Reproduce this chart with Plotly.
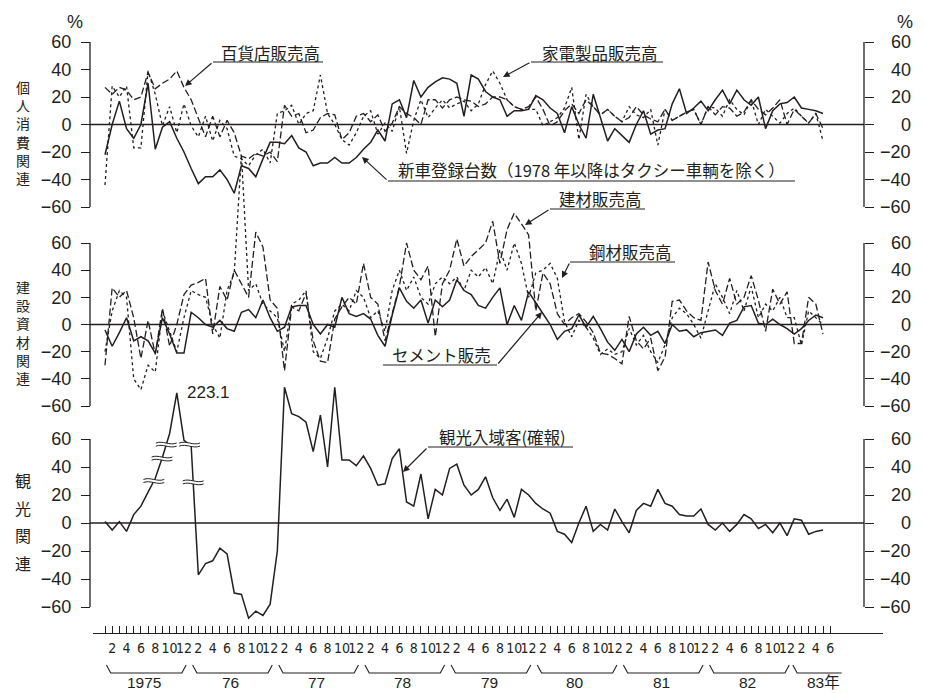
import numpy as np
import plotly.graph_objects as go

# ---------------------------------------------------------------
# Monthly year-on-year change (%), January 1975 - May 1983
# ---------------------------------------------------------------
# 個人消費関連
new_car = [
    -22, 0, 17, -3, -10, 0, 30, -18, -2, 2, -10, -20,
    -32, -43, -38, -38, -33, -40, -50, -30, -32, -38, -25, -13,
    -13, -14, -8, -17, -20, -30, -28, -28, -24, -28, -28, -24,
    -18, -13, -4, -12, 15, 18, 5, 32, 20, 27, 31, 34,
    33, 30, 6, 36, 33, 24, 20, 18, 6, 10, 10, 11,
    21, 18, 12, 8, -6, 13, 0, -10, 22, 5, -12, -3,
    -8, -13, 0, 10, -7, -4, -3, 15, 26, 8, 12, 17,
    10, 18, 25, 15, 25, 18, 14, 20, -3, 10, 15, 16,
    20, 12, 11, 10, 8,
]
dept_store = [
    27, 22, 27, 25, 18, 20, 38, 26, 30, 33, 39, 27,
    18, 5, -9, 6, -9, 3, -6, -23, -25, -21, -23, -20,
    -27, 14, 6, 8, -6, -4, 5, 8, 7, -11, -6, 6,
    8, 2, 7, -5, 1, 13, 8, 5, 0, 18, 18, 12,
    18, 20, 18, 17, 13, 15, 20, 20, 18, 13, 11, 13,
    20, 11, -1, 2, 10, 15, 8, 18, 13, 7, 11, 6,
    2, 5, 13, 7, 4, 2, 11, 3, 6, 9, 11, 0,
    13, 7, 13, 12, 6, 9, 18, 11, 7, 12, 18, 0,
    11, 6, 1, 8, -3,
]
appliances = [
    -44, 28, 20, 28, -17, -17, 39, 22, -1, 13, -6, 15,
    -1, -9, 6, -12, 3, -3, -23, -25, -30, -22, -18, -28,
    8, 10, 14, 0, 8, 10, 36, 8, 0, -11, -15, -6,
    6, 10, -7, 1, -5, 13, -21, 3, 18, 5, 12, 18,
    12, 15, 17, 10, 15, 29, 39, 30, 18, 13, 11, 11,
    11, -1, 2, 5, 12, 27, -11, 22, 13, 7, 11, 6,
    2, 13, 7, 5, 11, -15, 11, 3, 6, 9, 11, 0,
    13, 12, 6, 18, 11, 7, 18, 0, 11, 6, 1, 8,
    12, 6, 1, 8, -12,
]
# 建設資材関連
cement = [
    -4, -16, -6, 5, -12, -9, -12, -21, 5, -7, -21, -21,
    9, 5, 0, -2, 3, -3, -5, 9, 11, 5, 18, 5,
    -5, -2, 13, 14, 14, 0, -7, 0, -2, 20, 8, 6,
    8, 4, -8, -16, 7, 27, 17, 12, 18, 1, 18, 13,
    18, 33, 25, 22, 14, 12, 20, 27, 0, 14, 3, 24,
    16, 8, 0, -11, -5, -3, 7, -2, 6, -3, -13, -19,
    -11, -20, -7, -2, -8, -5, -14, 0, -5, -4, -9, -6,
    -5, -4, -8, 1, 3, 13, 14, 1, 0, 4, 0, -3,
    -7, -3, 3, 7, 5,
]
building_materials = [
    -30, 27, 20, 25, 5, -25, 3, -22, 12, -16, 0, 22,
    29, 31, 34, -7, 28, 18, 40, 30, 20, 68, 57, 18,
    12, -34, 13, 10, 23, -12, -27, -28, 4, 13, 20, 15,
    45, 20, 15, -12, 9, 28, 60, 40, 33, 43, -9, 30,
    40, 63, 43, 50, 55, 60, 76, 45, 70, 82, 74, 66,
    10, 38, 30, 8, 0, 5, 8, 2, -6, -21, -22, -25,
    -29, 6, -12, -18, -10, -34, -24, 17, 18, 10, 5, 3,
    46, 25, 15, 34, 15, 20, 36, 18, -5, 26, 15, 24,
    -14, -14, 20, 15, -7,
]
steel = [
    -20, 10, 25, 20, -40, -48, -30, -35, 10, -5, -20, 5,
    25, 22, 20, 0, -10, 25, 38, 125, 25, 30, 15, 10,
    5, -20, 15, 18, 25, -20, -25, -10, 10, 15, 10, 25,
    20, 5, 10, -5, 25, 40, 25, 35, 20, 15, 30, 35,
    30, 35, 25, 40, 35, 42, 30, 55, 40, 60, 45, 20,
    38, 40, 45, 34, 2, -9, 3, -2, -10, -22, -18, -22,
    -20, -3, -15, -8, -20, -28, -15, 5, 12, 8, 0, -10,
    10, 30, 20, 8, 25, 10, 28, 5, 15, 10, 20, 5,
    5, -15, 10, 5, 0,
]
# 観光関連
tourists = [
    1, -5, 1, -6, 6, 12, 22, 36, 82, 134, 223.1, 119,
    107, -37, -29, -27, -18, -22, -50, -51, -68, -63, -66, -58,
    -20, 97, 78, 76, 72, 51, 77, 40, 97, 45, 45, 41,
    48, 39, 27, 28, 46, 53, 15, 12, 35, 3, 24, 20,
    39, 42, 27, 20, 24, 33, 18, 9, 17, 4, 24, 20,
    14, 10, 7, -6, -8, -14, 0, 12, -6, -1, -5, 10,
    1, -7, 9, 14, 12, 24, 14, 12, 6, 5, 5, 10,
    -1, -5, 0, -6, -1, 6, 3, -4, -1, -7, 0, -9,
    3, 2, -8, -6, -5,
]

year_labels = ["1975", "76", "77", "78", "79", "80", "81", "82", "83年"]
n_ticks = 102  # Jan 1975 .. Jun 1983
month_text = [str(i % 12 + 1) if (i % 12 + 1) % 2 == 0 else "" for i in range(n_ticks)]
y_ticks = [60, 40, 20, 0, -20, -40, -60]
y_text = [str(v).replace("-", "\u2212") for v in y_ticks]

# ---------------------------------------------------------------
W, H = 927, 693
INK = "#231f20"
NUM_FONT = "Liberation Sans, Arial, sans-serif"
NARROW_FONT = "Liberation Sans Narrow, DejaVu Sans Condensed, Liberation Sans, sans-serif"
JP_FONT = "Noto Sans CJK JP, sans-serif"

months = np.arange(len(new_car))

# Expo months are drawn on a compressed scale above 30 % (axis break)
BREAK_AT = 30.0
BREAK_SCALE = 63.0 / 193.1
tour = np.array(tourists, float)
in_break = np.zeros(len(tour), bool)
in_break[6:13] = True
tour_shown = np.where(in_break & (tour > BREAK_AT), BREAK_AT + (tour - BREAK_AT) * BREAK_SCALE, tour)


def fx(px_):
    return px_ / W


def fy(py_):
    return 1 - py_ / H


X_JAN75, X_STEP = 105.0, 7.18


def xm(px_):
    return (px_ - X_JAN75) / X_STEP


PANEL_PX = [(42, 207), (243, 406), (439, 607)]


def y_range(top, bot):
    u = 120.0 / (bot - top)
    return [60 - (H - top) * u, 60 + top * u]


LEFT, RIGHT = 90 / W, 864 / W


def note(x, y, text, font, xref="paper", yref="paper", xanchor="center", yanchor="middle", **kw):
    return dict(xref=xref, yref=yref, x=x, y=y, text=text, showarrow=False, font=font,
                xanchor=xanchor, yanchor=yanchor, **kw)


fig = go.Figure()

line_solid = dict(color=INK, width=1.5)
line_long = dict(color=INK, width=1.3, dash="7px,3px")
line_short = dict(color=INK, width=1.3, dash="3px,3px")

for name, ys, ln in [("新車登録台数", new_car, line_solid),
                     ("百貨店販売高", dept_store, line_long),
                     ("家電製品販売高", appliances, line_short)]:
    fig.add_trace(go.Scatter(x=months, y=ys, mode="lines", line=ln, name=name, yaxis="y"))
for name, ys, ln in [("セメント販売", cement, line_solid),
                     ("建材販売高", building_materials, line_long),
                     ("鋼材販売高", steel, line_short)]:
    fig.add_trace(go.Scatter(x=months, y=ys, mode="lines", line=ln, name=name, yaxis="y3"))
fig.add_trace(go.Scatter(x=months, y=tour_shown, customdata=tour, mode="lines", line=line_solid,
                         name="観光入域客(確報)", yaxis="y5"))
for ya in ["y2", "y4", "y6"]:
    fig.add_trace(go.Scatter(x=[None], y=[None], mode="lines", yaxis=ya, hoverinfo="skip"))

num18 = dict(family=NUM_FONT, size=18, color=INK)

layout_axes = {}
shapes = []
annotations = []
for k, (top, bot) in enumerate(PANEL_PX):
    left_name = "yaxis" if k == 0 else f"yaxis{2 * k + 1}"
    right_name = f"yaxis{2 * k + 2}"
    left_ref = "y" if k == 0 else f"y{2 * k + 1}"
    right_ref = f"y{2 * k + 2}"
    common = dict(domain=[0, 1], range=y_range(top, bot), tickvals=y_ticks, ticks="outside",
                  ticklen=9, tickwidth=1.2, tickcolor=INK, showgrid=False, zeroline=False,
                  showline=False, anchor="free", fixedrange=True)
    left = dict(common, position=LEFT, side="left", ticktext=y_text, tickfont=num18,
                ticklabelstandoff=6)
    if k:
        left["overlaying"] = "y"
    layout_axes[left_name] = left
    layout_axes[right_name] = dict(common, position=RIGHT, side="right", overlaying="y",
                                   showticklabels=False)
    # axis spines and zero line
    for ref, xp in [(left_ref, LEFT), (right_ref, RIGHT)]:
        shapes.append(dict(type="line", xref="paper", yref=ref, x0=xp, x1=xp, y0=-60, y1=60,
                           line=dict(color=INK, width=1.3)))
    shapes.append(dict(type="line", xref="paper", yref=left_ref, x0=LEFT, x1=RIGHT, y0=0, y1=0,
                       line=dict(color=INK, width=1.3)))
    # right-hand tick labels
    for v, s in zip(y_ticks, y_text):
        annotations.append(note(fx(913), v, s, num18, yref=right_ref, xanchor="right"))

# percent signs
for xp in (75, 905):
    annotations.append(note(fx(xp), fy(22), "%", num18))

# vertical panel titles
jp14 = dict(family=JP_FONT, size=14, color=INK)
for title, yc in [("個人消費関連", 132), ("建設資材関連", 332)]:
    annotations.append(note(fx(23), fy(yc), "<br>".join(title), jp14))
for j, ch in enumerate("観光関連"):
    annotations.append(note(fx(23), fy(480 + j * 27.7), ch, dict(family=JP_FONT, size=16, color=INK)))

# series labels with underline and leader arrow
series_labels = [
    ("百貨店販売高", (270, 53), (213, 323, 62), (213, 62), (185, 86)),
    ("家電製品販売高", (600, 53), (531, 663, 62), (531, 62), (503, 77)),
    ("新車登録台数（1978 年以降はタクシー車輌を除く）", (591, 170), (388, 795, 181), (388, 181), (362, 157)),
    ("建材販売高", (600, 199), (550, 645, 209), (550, 209), (525, 225)),
    ("鋼材販売高", (630, 252), (570, 675, 262), (570, 262), (562, 278)),
    ("セメント販売", (441, 355), (383, 497, 365), (497, 365), (542, 312)),
    ("観光入域客(確報)", (503, 437), (428, 573, 447), (428, 447), (403, 472)),
]
jp_lab = dict(family=JP_FONT, size=16.5, color=INK)
for text, (cx, cy), (u0, u1, uy), (tx, ty), (hx, hy) in series_labels:
    annotations.append(note(fx(cx), fy(cy), text, jp_lab))
    shapes.append(dict(type="line", xref="paper", yref="paper", x0=fx(u0), x1=fx(u1),
                       y0=fy(uy), y1=fy(uy), line=dict(color=INK, width=1.2)))
    annotations.append(dict(xref="paper", yref="paper", x=fx(hx), y=fy(hy), ax=tx - hx, ay=ty - hy,
                            text="", showarrow=True, arrowhead=2, arrowsize=1.1, arrowwidth=1.2,
                            arrowcolor=INK))

# peak value of the broken tourist series
peak = int(np.argmax(tour))
annotations.append(note(peak, tour_shown[peak], f"{tour[peak]:.1f}",
                        dict(family=NUM_FONT, size=17, color=INK),
                        xref="x", yref="y5", xanchor="left", xshift=8))

# axis-break marks on the tourist line
rise = slice(5, peak + 1)
fall_i = months[peak:14][::-1]
fall_v = tour_shown[peak:14][::-1]
marks = [(np.interp(d, tour_shown[rise], months[rise]), d) for d in (30, 46, 56)]
marks += [(np.interp(d, fall_v, fall_i), d) for d in (56, 29)]
w, g, a = 1.45, 1.1, 1.0
for mx, my in marks:
    top_wave = f"M {mx - w},{my + g} C {mx - w / 3},{my + g + 2 * a} {mx + w / 3},{my + g - 2 * a} {mx + w},{my + g}"
    bot_wave = f"M {mx - w},{my - g} C {mx - w / 3},{my - g + 2 * a} {mx + w / 3},{my - g - 2 * a} {mx + w},{my - g}"
    fill = (f"M {mx - w},{my + g} C {mx - w / 3},{my + g + 2 * a} {mx + w / 3},{my + g - 2 * a} {mx + w},{my + g}"
            f" L {mx + w},{my - g} C {mx + w / 3},{my - g - 2 * a} {mx - w / 3},{my - g + 2 * a} {mx - w},{my - g} Z")
    shapes.append(dict(type="path", xref="x", yref="y5", path=fill, fillcolor="white",
                       line=dict(width=0)))
    for p in (top_wave, bot_wave):
        shapes.append(dict(type="path", xref="x", yref="y5", path=p, line=dict(color=INK, width=1)))

# year braces and labels under the month axis
b_top, b_bot = fy(665), fy(673)
yr_font = dict(family=NUM_FONT + ", " + JP_FONT, size=15.5, color=INK)
for yi, lab in enumerate(year_labels):
    s = 12 * yi
    if yi < len(year_labels) - 1:
        path = f"M {s + 0.2},{b_top} L {s + 0.8},{b_bot} L {s + 10.7},{b_bot} L {s + 11.3},{b_top}"
        xc = s + 5.5
    else:
        path = f"M {s - 0.2},{b_top} L {s + 0.4},{b_bot} L {s + 6.6},{b_bot}"
        xc = s + 4.0
    shapes.append(dict(type="path", xref="x", yref="paper", path=path,
                       line=dict(color=INK, width=1.1)))
    annotations.append(note(xc, 0.0, lab, yr_font, xref="x", yanchor="bottom"))

fig.update_layout(
    width=W, height=H, margin=dict(l=0, r=0, t=0, b=0),
    paper_bgcolor="white", plot_bgcolor="white", showlegend=False, hovermode=False,
    xaxis=dict(domain=[fx(93), fx(883)], range=[xm(93), xm(883)], anchor="free",
               position=fy(633), showline=True, linecolor=INK, linewidth=1.3,
               ticks="inside", ticklen=7, tickwidth=1, tickcolor=INK,
               tickvals=list(range(n_ticks)), ticktext=month_text, tickangle=0,
               tickfont=dict(family=NARROW_FONT, size=14, color=INK), ticklabelstandoff=2,
               showgrid=False, zeroline=False, fixedrange=True),
    shapes=shapes, annotations=annotations,
    **layout_axes,
)

fig.write_html("out.html")
